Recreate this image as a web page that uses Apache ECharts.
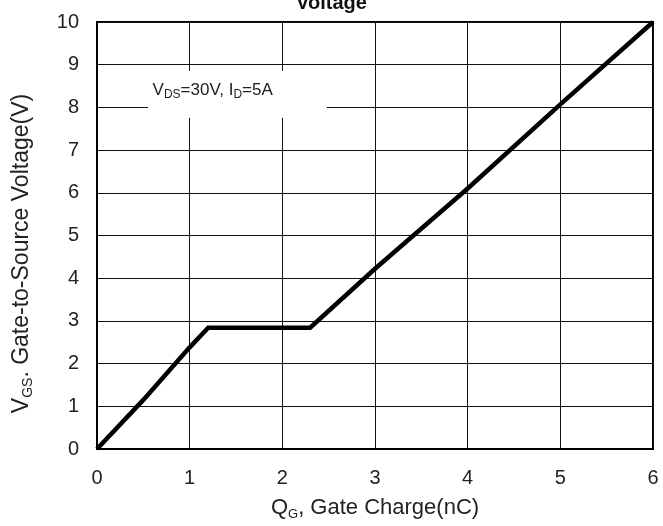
<!DOCTYPE html>
<html>
<head>
<meta charset="utf-8">
<script src="https://cdn.jsdelivr.net/npm/echarts@6/dist/echarts.min.js"></script>
<style>html,body{margin:0;padding:0;background:#fff}#c{width:663px;height:526px}</style>
</head>
<body>
<div id="c"></div>
<script>
// Data
const gateCharge = [0, 0.5, 1.0, 1.2, 2.3, 3.0, 4.0, 5.0, 6.0];     // Q_G (nC)
const gateVoltage = [0, 1.15, 2.38, 2.84, 2.84, 4.22, 6.1, 8.07, 10]; // V_GS (V)
const xTicks = [0, 1, 2, 3, 4, 5, 6];
const yTicks = [0, 1, 2, 3, 4, 5, 6, 7, 8, 9, 10];

const chart = echarts.init(document.getElementById('c'), null, {renderer: 'canvas'});
const FONT = '"Liberation Sans", Arial, sans-serif';
const TXT = '#222';

chart.setOption({
  animation: false,
  backgroundColor: '#fff',
  title: {
    text: 'Voltage', left: 'center', top: -7, padding: 0,
    textStyle: {fontFamily: FONT, fontSize: 20, fontWeight: 'bold', color: '#111'}
  },
  grid: {left: 97, right: 10, top: 22, bottom: 75, show: true, borderColor: '#000', borderWidth: 2, containLabel: false},
  xAxis: {
    type: 'value', min: xTicks[0], max: xTicks[xTicks.length - 1], interval: 1,
    name: '{n|Q}{s|G}{n|, Gate Charge(nC)}', nameLocation: 'middle', nameGap: 46,
    nameTextStyle: {rich: {
      n: {fontFamily: FONT, fontSize: 22, color: TXT, lineHeight: 26},
      s: {fontFamily: FONT, fontSize: 13, color: TXT, lineHeight: 13, verticalAlign: 'bottom'}
    }},
    axisLine: {show: true, lineStyle: {color: '#000', width: 2}},
    axisTick: {show: false},
    axisLabel: {fontFamily: FONT, fontSize: 20, color: TXT, margin: 19},
    splitLine: {show: true, lineStyle: {color: '#111', width: 1}}
  },
  yAxis: {
    type: 'value', min: yTicks[0], max: yTicks[yTicks.length - 1], interval: 1,
    name: '{n|V}{s|GS}{n|. Gate-to-Source Voltage(V)}', nameLocation: 'middle', nameGap: 62, nameRotate: 90,
    nameTextStyle: {padding: [0, 36, 0, 0], rich: {
      n: {fontFamily: FONT, fontSize: 23, color: TXT, lineHeight: 27},
      s: {fontFamily: FONT, fontSize: 14, color: TXT, lineHeight: 14, verticalAlign: 'bottom'}
    }},
    axisLine: {show: true, lineStyle: {color: '#000', width: 2}},
    axisTick: {show: false},
    axisLabel: {fontFamily: FONT, fontSize: 20, color: TXT, margin: 18},
    splitLine: {show: true, lineStyle: {color: '#111', width: 1}}
  },
  series: [{
    type: 'line',
    data: gateCharge.map((q, i) => [q, gateVoltage[i]]),
    showSymbol: false, symbol: 'none',
    lineStyle: {color: '#000', width: 4.5, join: 'miter'},
    z: 5
  }]
});

// Annotation box (white patch over the grid) anchored in data coordinates
const annoTopLeft = chart.convertToPixel({gridIndex: 0}, [0.55, 8.86]);
const annoBottomRight = chart.convertToPixel({gridIndex: 0}, [2.48, 7.76]);
const annoText = chart.convertToPixel({gridIndex: 0}, [0.6, 8.4]);
chart.setOption({
  graphic: [
    {type: 'rect', z: 10,
     shape: {x: annoTopLeft[0], y: annoTopLeft[1], width: annoBottomRight[0] - annoTopLeft[0], height: annoBottomRight[1] - annoTopLeft[1]},
     style: {fill: '#fff'}},
    {type: 'text', z: 11, x: annoText[0], y: annoText[1],
     style: {
       text: '{n|V}{s|DS}{n|=30V, I}{s|D}{n|=5A}',
       verticalAlign: 'middle', align: 'left',
       rich: {
         n: {fontFamily: FONT, fontSize: 17, fill: TXT, lineHeight: 20},
         s: {fontFamily: FONT, fontSize: 12, fill: TXT, lineHeight: 12, verticalAlign: 'bottom'}
       }
     }}
  ]
});
</script>
</body>
</html>
